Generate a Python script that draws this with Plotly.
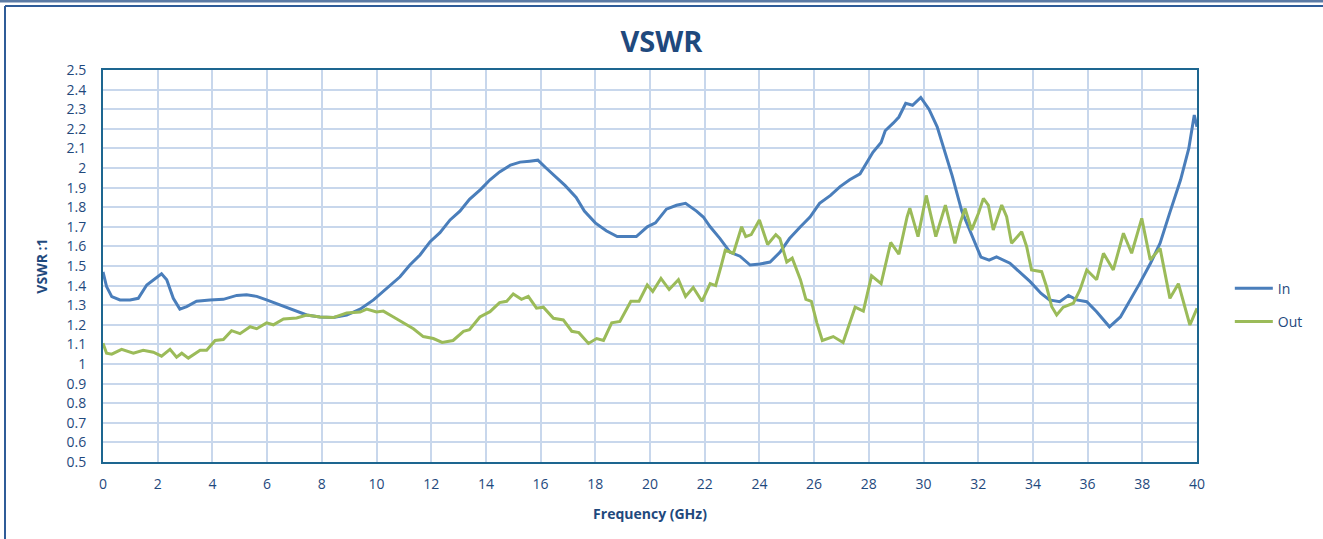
import plotly.graph_objects as go

# ---- data ----
in_freq = [0.0, 0.13, 0.32, 0.62, 0.99, 1.29, 1.6, 1.9, 2.14, 2.33, 2.57, 2.81, 3.06, 3.42, 3.91,
           4.4, 4.89, 5.25, 5.62, 5.98, 6.47, 6.96, 7.45, 7.93, 8.42, 8.91, 9.4, 9.89, 10.37, 10.86,
           11.22, 11.59, 11.96, 12.32, 12.69, 13.05, 13.4, 13.8, 14.15, 14.5, 14.9, 15.25, 15.6, 15.9,
           16.2, 16.5, 16.9, 17.3, 17.6, 18.0, 18.4, 18.8, 19.1, 19.5, 19.9, 20.2, 20.6, 20.97, 21.3,
           21.7, 21.95, 22.2, 22.56, 22.93, 23.29, 23.66, 24.02, 24.39, 24.75, 25.1, 25.5, 25.85, 26.2,
           26.6, 26.95, 27.3, 27.68, 27.9, 28.15, 28.45, 28.6, 28.9, 29.1, 29.35, 29.6, 29.9, 30.2,
           30.5, 30.8, 31.05, 31.4, 31.8, 32.1, 32.4, 32.67, 33.16, 33.5, 33.9, 34.3, 34.6, 34.98,
           35.3, 35.6, 35.97, 36.33, 36.8, 37.2, 37.5, 37.9, 38.3, 38.65, 39.0, 39.4, 39.7, 39.9, 40.0]
in_vswr = [1.47, 1.395, 1.344, 1.327, 1.327, 1.335, 1.403, 1.437, 1.46, 1.43, 1.335, 1.28, 1.293, 1.32, 1.327,
           1.33, 1.35, 1.353, 1.345, 1.327, 1.30, 1.276, 1.25, 1.24, 1.237, 1.25, 1.28, 1.327, 1.386, 1.445,
           1.505, 1.556, 1.624, 1.67, 1.735, 1.78, 1.84, 1.89, 1.94, 1.98, 2.015, 2.03, 2.035, 2.04,
           2.0, 1.96, 1.91, 1.85, 1.78, 1.72, 1.68, 1.65, 1.65, 1.65, 1.70, 1.72, 1.79, 1.81, 1.82,
           1.78, 1.75, 1.70, 1.64, 1.57, 1.55, 1.505, 1.51, 1.52, 1.57, 1.64, 1.70, 1.75, 1.82,
           1.86, 1.905, 1.94, 1.97, 2.02, 2.08, 2.13, 2.19, 2.23, 2.26, 2.33, 2.32, 2.36, 2.30,
           2.21, 2.08, 1.96, 1.78, 1.65, 1.545, 1.53, 1.547, 1.514, 1.471, 1.42, 1.36, 1.327, 1.318,
           1.35, 1.327, 1.318, 1.267, 1.19, 1.24, 1.31, 1.41, 1.514, 1.616, 1.77, 1.94, 2.10, 2.27, 2.21]

out_freq = [0.0, 0.13, 0.32, 0.68, 1.11, 1.47, 1.84, 2.14, 2.45, 2.69, 2.88, 3.12, 3.55, 3.79, 4.1,
            4.4, 4.7, 5.01, 5.38, 5.62, 5.98, 6.23, 6.6, 7.08, 7.45, 7.93, 8.42, 8.91, 9.4, 9.64,
            10.0, 10.25, 10.62, 10.98, 11.35, 11.71, 12.08, 12.4, 12.8, 13.18, 13.4, 13.78, 14.15,
            14.5, 14.76, 15.0, 15.3, 15.55, 15.85, 16.1, 16.47, 16.83, 17.14, 17.4, 17.75, 18.05,
            18.3, 18.6, 18.9, 19.3, 19.6, 19.9, 20.1, 20.4, 20.7, 21.04, 21.3, 21.58, 21.9, 22.2,
            22.4, 22.6, 22.75, 23.05, 23.2, 23.35, 23.5, 23.7, 24.0, 24.3, 24.6, 24.75, 25.0, 25.2,
            25.5, 25.7, 25.9, 26.1, 26.3, 26.7, 27.06, 27.5, 27.8, 28.1, 28.45, 28.8, 29.1, 29.4,
            29.5, 29.8, 30.1, 30.45, 30.8, 31.15, 31.34, 31.52, 31.76, 32.01, 32.19, 32.37, 32.55,
            32.86, 33.04, 33.22, 33.59, 33.77, 33.95, 34.32, 34.5, 34.69, 34.87, 35.11, 35.48,
            35.72, 35.97, 36.33, 36.58, 36.94, 37.31, 37.61, 37.98, 38.29, 38.65, 39.01, 39.32,
            39.74, 40.0]
out_vswr = [1.106, 1.055, 1.05, 1.075, 1.055, 1.07, 1.06, 1.04, 1.075, 1.035, 1.055, 1.03, 1.07, 1.07, 1.12,
            1.125, 1.17, 1.155, 1.19, 1.18, 1.21, 1.20, 1.23, 1.235, 1.25, 1.24, 1.237, 1.26, 1.265, 1.28,
            1.265, 1.27, 1.24, 1.21, 1.18, 1.14, 1.13, 1.11, 1.12, 1.167, 1.175, 1.24, 1.267,
            1.313, 1.32, 1.357, 1.33, 1.345, 1.285, 1.29, 1.233, 1.225, 1.167, 1.16, 1.105, 1.13,
            1.12, 1.21, 1.217, 1.32, 1.32, 1.403, 1.37, 1.437, 1.38, 1.43, 1.345, 1.39, 1.32, 1.41,
            1.40, 1.50, 1.58, 1.565, 1.63, 1.70, 1.65, 1.66, 1.735, 1.61, 1.66, 1.64, 1.52, 1.54,
            1.43, 1.33, 1.32, 1.21, 1.12, 1.14, 1.11, 1.29, 1.27, 1.45, 1.41, 1.62, 1.56, 1.75,
            1.795, 1.65, 1.86, 1.65, 1.81, 1.616, 1.718, 1.794, 1.684, 1.769, 1.845, 1.811, 1.684,
            1.811, 1.752, 1.616, 1.675, 1.60, 1.48, 1.471, 1.394, 1.292, 1.25, 1.29, 1.31,
            1.378, 1.48, 1.43, 1.565, 1.48, 1.667, 1.565, 1.743, 1.531, 1.59, 1.335, 1.41,
            1.199, 1.284]

x_ticks = list(range(0, 41, 2))
y_tick_vals = [0.5, 0.6, 0.7, 0.8, 0.9, 1.0, 1.1, 1.2, 1.3, 1.4, 1.5, 1.6, 1.7, 1.8, 1.9,
               2.0, 2.1, 2.2, 2.3, 2.4, 2.5]
y_tick_text = ["0.5", "0.6", "0.7", "0.8", "0.9", "1", "1.1", "1.2", "1.3", "1.4", "1.5", "1.6",
               "1.7", "1.8", "1.9", "2", "2.1", "2.2", "2.3", "2.4", "2.5"]

TEXT = "#1F497D"
GRID = "#C8D7EC"
BORDER = "#1D6690"
FONT = "Open Sans"

fig = go.Figure()
fig.add_trace(go.Scatter(x=in_freq, y=in_vswr, mode="lines", name="In", legendgroup="in",
                         line=dict(color="#4A7EBB", width=3)))
fig.add_trace(go.Scatter(x=out_freq, y=out_vswr, mode="lines", name="Out", legendgroup="out",
                         line=dict(color="#9BBB59", width=3)))

fig.update_layout(
    width=1323, height=539,
    margin=dict(l=103, r=126, t=70, b=77),
    paper_bgcolor="white", plot_bgcolor="white",
    font=dict(family=FONT, color=TEXT, size=14),
    title=dict(text="<b>VSWR</b>", x=0.5, xref="container", xanchor="center",
               y=1 - 42 / 539, yref="container", yanchor="middle",
               font=dict(family=FONT, size=29, color=TEXT)),
    legend=dict(x=1.03, y=0.40, xanchor="left", yanchor="middle",
                font=dict(family=FONT, size=14, color=TEXT),
                itemwidth=38, tracegroupgap=12, bgcolor="rgba(0,0,0,0)"),
    showlegend=True,
)

fig.update_xaxes(range=[0, 40], tickvals=x_ticks, ticktext=[str(v) for v in x_ticks],
                 showgrid=True, gridcolor=GRID, gridwidth=2,
                 showline=True, linecolor=BORDER, linewidth=2, mirror=True,
                 ticks="", ticklabelstandoff=8, zeroline=False,
                 tickfont=dict(size=14, color=TEXT),
                 title=dict(text="<b>Frequency (GHz)</b>", standoff=17,
                            font=dict(size=14, color=TEXT)))
fig.update_yaxes(range=[0.5, 2.5], tickvals=y_tick_vals, ticktext=y_tick_text,
                 showgrid=True, gridcolor=GRID, gridwidth=2,
                 showline=True, linecolor=BORDER, linewidth=2, mirror=True,
                 ticks="", ticklabelstandoff=12, zeroline=False,
                 tickfont=dict(size=14, color=TEXT),
                 title=dict(text="<b>VSWR :1</b>", standoff=16,
                            font=dict(size=14, color=TEXT)))

# outer chart frame (top double rule and left edge)
fig.add_shape(type="line", xref="paper", yref="paper", x0=-1, x1=2,
              y0=1 + 69 / 392, y1=1 + 69 / 392, line=dict(color="#5B7BA5", width=3))
fig.add_shape(type="line", xref="paper", yref="paper", x0=-98 / 1094, x1=2,
              y0=1 + 64 / 392, y1=1 + 64 / 392, line=dict(color="#2F5C98", width=2))
fig.add_shape(type="line", xref="paper", yref="paper", x0=-98 / 1094, x1=-98 / 1094,
              y0=1 + 64 / 392, y1=-1, line=dict(color="#2F5C98", width=2))

fig.write_html("out.html", config={"displayModeBar": False},
               post_script="document.body.style.margin='0px';document.body.style.overflow='hidden';")
